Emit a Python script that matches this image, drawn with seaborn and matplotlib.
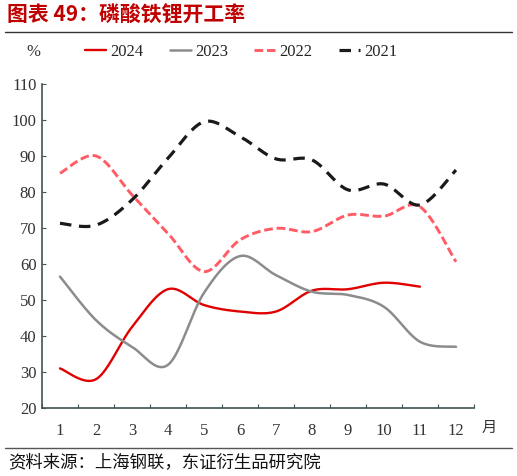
import numpy as np
import pandas as pd
import matplotlib
matplotlib.use("Agg")
import matplotlib.pyplot as plt
from matplotlib.lines import Line2D
import seaborn as sns

months = list(range(1, 13))
month_labels = [str(m) for m in months]
years = ["2024", "2023", "2022", "2021"]

rate_2024 = [31.0, 28.0, 42.5, 53.0, 48.6, 46.8, 46.8, 52.6, 53.0, 54.8, 53.7]
rate_2023 = [56.5, 44.4, 37.0, 32.0, 52.0, 62.2, 56.9, 52.3, 51.4, 48.1, 38.4, 37.0]
rate_2022 = [85.2, 90.0, 79.2, 68.5, 57.9, 66.7, 69.9, 69.0, 73.6, 73.3, 75.9, 60.6]
rate_2021 = [71.3, 70.8, 77.8, 89.4, 99.5, 95.4, 89.2, 88.9, 80.6, 82.2, 76.4, 86.1]
series = {"2024": rate_2024, "2023": rate_2023, "2022": rate_2022, "2021": rate_2021}

colors = {"2024": "#E00000", "2023": "#8C8C8C", "2022": "#FF5C66", "2021": "#1A1A1A"}
styles = {"2024": "-", "2023": "-", "2022": (0, (3, 1.3)), "2021": (0, (3.6, 2.4))}
widths = {"2024": 1.7, "2023": 1.8, "2022": 2.1, "2021": 2.3}


def smooth(x, y, n=24):
    # smoothed rendering through the read points (Catmull-Rom style bezier)
    p = np.column_stack([x, y]).astype(float)
    out = []
    for i in range(len(p) - 1):
        p0 = p[i - 1] if i > 0 else p[i]
        p1, p2 = p[i], p[i + 1]
        p3 = p[i + 2] if i + 2 < len(p) else p[i + 1]
        c1 = p1 + (p2 - p0) / 6
        c2 = p2 - (p3 - p1) / 6
        t = np.linspace(0, 1, n)[:, None]
        seg = ((1 - t) ** 3) * p1 + 3 * ((1 - t) ** 2) * t * c1 + 3 * (1 - t) * t ** 2 * c2 + t ** 3 * p2
        out.append(seg if i == 0 else seg[1:])
    s = np.vstack(out)
    return s[:, 0], s[:, 1]


sns.set_style("white")
plt.rcParams["font.family"] = ["Liberation Serif", "Noto Sans CJK SC"]

fig = plt.figure(figsize=(5.17, 4.76), dpi=100)
ax = fig.add_axes([42 / 517, 1 - 408 / 476, (474 - 42) / 517, (408 - 84) / 476])

for yr in years:
    vals = series[yr]
    sx, sy = smooth(months[:len(vals)], vals)
    sns.lineplot(x=sx, y=sy, ax=ax, color=colors[yr], linestyle=styles[yr],
                 linewidth=widths[yr], label=yr, sort=False)

ax.set_xlim(0.5, 12.5)
ax.set_ylim(20, 110)
ax.set_yticks(range(20, 111, 10))
ax.set_xticks(np.arange(0.5, 12.6, 1))
ax.set_xticklabels([])
for m, lab in zip(months, month_labels):
    ax.text(m, -0.07, lab, transform=ax.get_xaxis_transform(), ha="center", va="center",
            fontsize=12, color="#333333")
ax.tick_params(axis="y", direction="in", length=3, color="#3F5454", labelsize=12,
               labelcolor="#333333", pad=4, left=True)
ax.tick_params(axis="x", direction="in", length=3, color="#3F5454", bottom=True)
for side in ["top", "right"]:
    ax.spines[side].set_visible(False)
for side in ["left", "bottom"]:
    ax.spines[side].set_color("#3F5454")
    ax.spines[side].set_linewidth(1.2)
ax.set_xlabel("")
ax.set_ylabel("")

ax.legend(loc="center left", bbox_to_anchor=(85 / 517, 1 - 52 / 476), bbox_transform=fig.transFigure,
          ncol=4, frameon=False, fontsize=12, handlelength=1.25, handletextpad=0.25,
          columnspacing=1.6, borderaxespad=0, borderpad=0)

fig.text(33 / 517, 1 - 52 / 476, "%", ha="center", va="center", fontsize=12, color="#333333")
fig.text(489 / 517, 1 - 427 / 476, "月", ha="center", va="center", fontsize=11, color="#333333",
         family=["Noto Sans CJK SC"])
fig.text(7 / 517, 1 - 15 / 476, "图表 49：磷酸铁锂开工率", ha="left", va="center", fontsize=15,
         fontweight="bold", color="#C00000", family=["Noto Sans CJK SC", "DejaVu Sans"])
fig.text(8 / 517, 1 - 462 / 476, "资料来源：上海钢联，东证衍生品研究院", ha="left", va="center",
         fontsize=12.5, color="#111111", family=["Noto Sans CJK SC", "DejaVu Sans"])
fig.add_artist(Line2D([5 / 517, 512 / 517], [1 - 32 / 476] * 2, transform=fig.transFigure,
                      color="#333333", lw=1))
fig.add_artist(Line2D([5 / 517, 512 / 517], [1 - 448 / 476] * 2, transform=fig.transFigure,
                      color="#555555", lw=1))

fig.savefig("out.png", dpi=100, facecolor="white")
